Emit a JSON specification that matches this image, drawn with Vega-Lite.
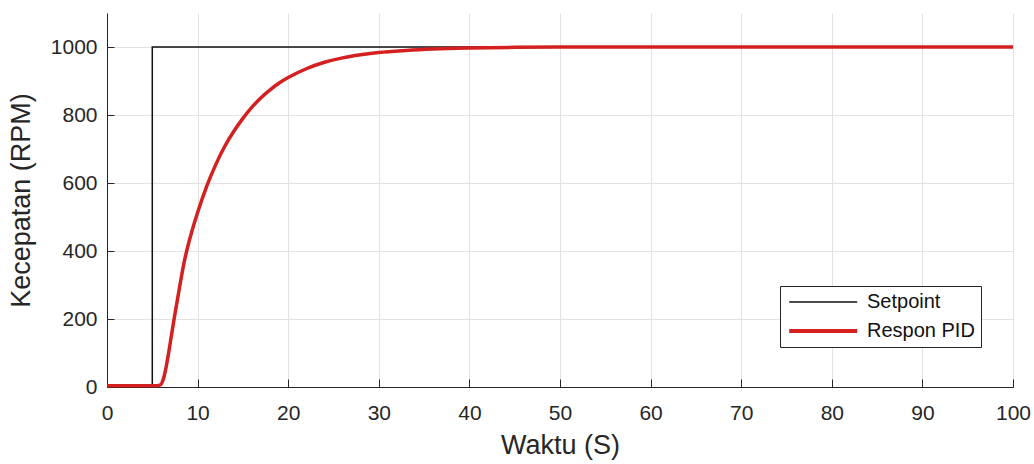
{
  "$schema": "https://vega.github.io/schema/vega-lite/v6.json",
  "width": 906,
  "height": 374,
  "autosize": {"type": "none"},
  "padding": {"left": 107, "top": 13, "right": 21, "bottom": 77},
  "background": "white",
  "config": {
    "font": "Liberation Sans",
    "view": {"stroke": null},
    "axis": {
      "domainColor": "#262626",
      "tickColor": "#262626",
      "labelColor": "#262626",
      "titleColor": "#262626",
      "labelFont": "Liberation Sans",
      "titleFont": "Liberation Sans",
      "labelFontSize": 21,
      "titleFontSize": 27,
      "titleFontWeight": "normal",
      "gridColor": "#e3e3e3",
      "gridWidth": 1,
      "domainWidth": 1,
      "tickWidth": 1,
      "labelFlush": false
    }
  },
  "layer": [
    {
      "data": {"values": [
        {"t": 0, "v": 0, "series": "Setpoint"},
        {"t": 5, "v": 0, "series": "Setpoint"},
        {"t": 5, "v": 1000, "series": "Setpoint"},
        {"t": 100, "v": 1000, "series": "Setpoint"}
      ]},
      "mark": {"type": "line", "strokeWidth": 1.5, "interpolate": "linear"},
      "encoding": {
        "x": {"field": "t", "type": "quantitative", "scale": {"domain": [0, 100], "nice": false},
          "axis": {"title": "Waktu (S)", "values": [0,10,20,30,40,50,60,70,80,90,100], "format": "d", "tickSize": -8, "labelPadding": 23, "labelFlush": false, "titlePadding": 9, "grid": true}},
        "y": {"field": "v", "type": "quantitative", "scale": {"domain": [0, 1100], "nice": false},
          "axis": {"title": "Kecepatan (RPM)", "values": [0,200,400,600,800,1000], "format": "d", "tickSize": -7, "labelPadding": 17, "labelFlush": false, "titlePadding": 15, "grid": true}},
        "color": {"field": "series", "type": "nominal",
          "scale": {"domain": ["Setpoint", "Respon PID"], "range": ["#111111", "#d42020"]},
          "legend": {
            "title": null,
            "orient": "none",
            "legendX": 673,
            "legendY": 273,
            "direction": "vertical",
            "strokeColor": "#262626",
            "fillColor": "white",
            "padding": 6,
            "cornerRadius": 0,
            "labelFont": "Liberation Sans",
            "labelFontSize": 20,
            "labelColor": "#111111",
            "rowPadding": 9,
            "symbolType": "M-1,0H9",
            "symbolSize": 185,
            "labelOffset": 61,
            "encode": {"symbols": {"update": {"strokeWidth": {"signal": "datum.value === 'Setpoint' ? 1.5 : 4"}}}}
          }
        }
      }
    },
    {
      "data": {"values": [
        {"t": 0, "v": 4, "series": "Respon PID"},
        {"t": 2, "v": 4, "series": "Respon PID"},
        {"t": 4, "v": 4, "series": "Respon PID"},
        {"t": 5.5, "v": 4, "series": "Respon PID"},
        {"t": 5.9, "v": 6, "series": "Respon PID"},
        {"t": 6.2, "v": 22, "series": "Respon PID"},
        {"t": 6.5, "v": 55, "series": "Respon PID"},
        {"t": 6.8, "v": 100, "series": "Respon PID"},
        {"t": 7.1, "v": 150, "series": "Respon PID"},
        {"t": 7.5, "v": 215, "series": "Respon PID"},
        {"t": 8.0, "v": 292, "series": "Respon PID"},
        {"t": 8.5, "v": 365, "series": "Respon PID"},
        {"t": 9.0, "v": 422, "series": "Respon PID"},
        {"t": 9.5, "v": 470, "series": "Respon PID"},
        {"t": 10, "v": 513, "series": "Respon PID"},
        {"t": 11, "v": 590, "series": "Respon PID"},
        {"t": 12, "v": 654, "series": "Respon PID"},
        {"t": 13, "v": 708, "series": "Respon PID"},
        {"t": 14, "v": 752, "series": "Respon PID"},
        {"t": 15, "v": 790, "series": "Respon PID"},
        {"t": 16, "v": 823, "series": "Respon PID"},
        {"t": 17, "v": 851, "series": "Respon PID"},
        {"t": 18, "v": 874, "series": "Respon PID"},
        {"t": 19, "v": 894, "series": "Respon PID"},
        {"t": 20, "v": 910, "series": "Respon PID"},
        {"t": 22, "v": 936, "series": "Respon PID"},
        {"t": 24, "v": 955, "series": "Respon PID"},
        {"t": 26, "v": 968, "series": "Respon PID"},
        {"t": 28, "v": 977, "series": "Respon PID"},
        {"t": 30, "v": 984, "series": "Respon PID"},
        {"t": 33, "v": 990, "series": "Respon PID"},
        {"t": 36, "v": 994, "series": "Respon PID"},
        {"t": 40, "v": 997, "series": "Respon PID"},
        {"t": 45, "v": 999, "series": "Respon PID"},
        {"t": 50, "v": 1000, "series": "Respon PID"},
        {"t": 60, "v": 1000, "series": "Respon PID"},
        {"t": 70, "v": 1000, "series": "Respon PID"},
        {"t": 80, "v": 1000, "series": "Respon PID"},
        {"t": 90, "v": 1000, "series": "Respon PID"},
        {"t": 100, "v": 1000, "series": "Respon PID"}
      ]},
      "mark": {"type": "line", "strokeWidth": 3.5, "interpolate": "monotone"},
      "encoding": {
        "x": {"field": "t", "type": "quantitative"},
        "y": {"field": "v", "type": "quantitative"},
        "color": {"field": "series", "type": "nominal"}
      }
    }
  ]
}
